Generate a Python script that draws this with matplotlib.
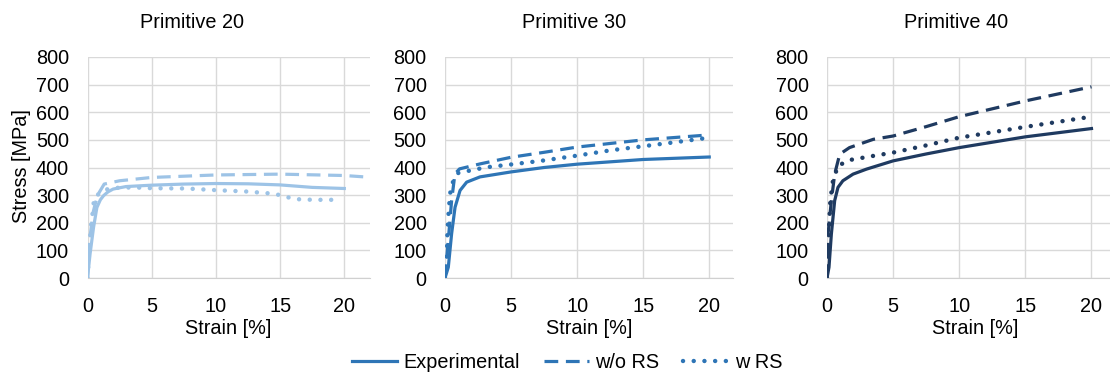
import matplotlib
matplotlib.use("Agg")
import matplotlib.pyplot as plt
from matplotlib.lines import Line2D

plt.rcParams['font.family'] = ['Liberation Sans', 'DejaVu Sans']

# --- data (strain [%], stress [MPa]) ---
titles = ["Primitive 20", "Primitive 30", "Primitive 40"]
colors = ["#9dc3e6", "#2e75b6", "#1f3a60"]

p20_exp_x = [0, 0.2, 0.47, 0.73, 1.0, 1.25, 1.6, 2.0, 3.0, 5, 7.5, 10, 12.5, 15, 17.5, 20]
p20_exp_y = [0, 87, 183, 255, 283, 298, 312, 322, 331, 336, 340, 342, 341, 337, 328, 324]
p20_wo_x = [0, 0.2, 0.45, 0.6, 0.85, 1.3, 2.5, 5, 10, 15, 20, 22.5]
p20_wo_y = [0, 150, 240, 268, 305, 340, 352, 364, 373, 376, 371, 363]
p20_w_x = [0, 0.15, 0.2, 0.26, 0.36, 0.52, 1.25, 2.0, 3.6, 5, 7.7, 10, 12.4, 14, 14.9, 15.7, 16.6, 18, 19.7]
p20_w_y = [0, 111, 147, 183, 219, 291, 318, 326, 328, 325, 324, 318, 313, 307, 301, 291, 284, 283, 283]

p30_exp_x = [0, 0.25, 0.5, 0.76, 1.14, 1.64, 2.65, 5, 7.5, 10, 15, 20]
p30_exp_y = [0, 39, 160, 256, 317, 347, 366, 384, 400, 412, 429, 438]
p30_wo_x = [0, 0.2, 0.5, 0.75, 1.1, 2.65, 5, 7.5, 10, 15, 20]
p30_wo_y = [0, 110, 280, 377, 395, 413, 437, 455, 474, 500, 518]
p30_w_x = [0, 0.13, 0.18, 0.25, 0.38, 0.63, 1.0, 1.9, 3.15, 5, 7.4, 10, 12.5, 15, 17.5, 20]
p30_w_y = [0, 63, 160, 220, 305, 353, 380, 389, 401, 411, 425, 443, 462, 477, 492, 508]

p40_exp_x = [0, 0.15, 0.33, 0.58, 0.83, 1.2, 1.97, 2.98, 5, 7.5, 10, 15, 20]
p40_exp_y = [0, 39, 159, 280, 328, 352, 376, 394, 424, 449, 472, 511, 541]
p40_wo_x = [0, 0.08, 0.33, 0.58, 0.96, 1.7, 3.5, 5, 7.5, 10, 15, 20]
p40_wo_y = [0, 159, 280, 376, 448, 472, 502, 514, 548, 584, 641, 692]
p40_w_x = [0, 0.08, 0.15, 0.25, 0.45, 0.83, 1.7, 3.5, 5, 7.5, 10, 15, 20]
p40_w_y = [0, 75, 183, 280, 352, 406, 427, 442, 454, 480, 508, 547, 584]

series = [
    [(p20_exp_x, p20_exp_y), (p20_wo_x, p20_wo_y), (p20_w_x, p20_w_y)],
    [(p30_exp_x, p30_exp_y), (p30_wo_x, p30_wo_y), (p30_w_x, p30_w_y)],
    [(p40_exp_x, p40_exp_y), (p40_wo_x, p40_wo_y), (p40_w_x, p40_w_y)],
]
legend_labels = ["Experimental", "w/o RS", "w RS"]
x_ticks = [0, 5, 10, 15, 20]
y_ticks = [0, 100, 200, 300, 400, 500, 600, 700, 800]

W, H = 1110, 372
FS = 14.3
fig = plt.figure(figsize=(W / 100, H / 100), dpi=100)

# panel geometry in pixels: left, width, x max
panels = [(87.5, 282.5, 22.0), (445, 288, 21.8), (827, 283, 21.4)]
title_x = [192, 574, 956]
xlabel_x = [228, 589, 975]
top_px, bot_px = 57, 278

styles = [
    dict(linestyle="-", lw=2.3, solid_joinstyle="round"),
    dict(linestyle=(0, (4.3, 2.4)), lw=2.3),
    dict(linestyle=(0, (0.01, 2.4)), lw=3.2, dash_capstyle="round"),
]

for i, (left, width, xmax) in enumerate(panels):
    ax = fig.add_axes([left / W, 1 - bot_px / H, width / W, (bot_px - top_px) / H])
    for (xs, ys), st in zip(series[i], styles):
        ax.plot(xs, ys, color=colors[i], **st)
    ax.set_xlim(0, xmax)
    ax.set_ylim(0, 800)
    ax.set_xticks(x_ticks)
    ax.set_yticks(y_ticks)
    ax.grid(True, color="#d9d9d9", lw=1.0)
    ax.set_axisbelow(True)
    for s in ["top", "right", "left"]:
        ax.spines[s].set_visible(False)
    ax.spines["bottom"].set_color("#d0d0d0")
    ax.tick_params(length=0, labelsize=FS, colors="#000000")
    ax.tick_params(axis="y", pad=13.3)
    ax.tick_params(axis="x", pad=13.5)
    fig.text(title_x[i] / W, 1 - 23 / H, titles[i], ha="center", va="center", fontsize=FS)
    fig.text(xlabel_x[i] / W, 1 - 329 / H, "Strain [%]", ha="center", va="center", fontsize=FS)

fig.text(22 / W, 1 - 166 / H, "Stress [MPa]", rotation=90, ha="center", va="center", fontsize=FS)

handles = [Line2D([], [], color="#2e75b6", **st) for st in styles]
fig.legend(handles, legend_labels, loc="center", bbox_to_anchor=(567 / W, 1 - 362 / H),
           ncol=3, frameon=False, fontsize=FS, handlelength=2.3, handletextpad=0.3,
           columnspacing=1.2)

fig.savefig("out.png", dpi=100)
